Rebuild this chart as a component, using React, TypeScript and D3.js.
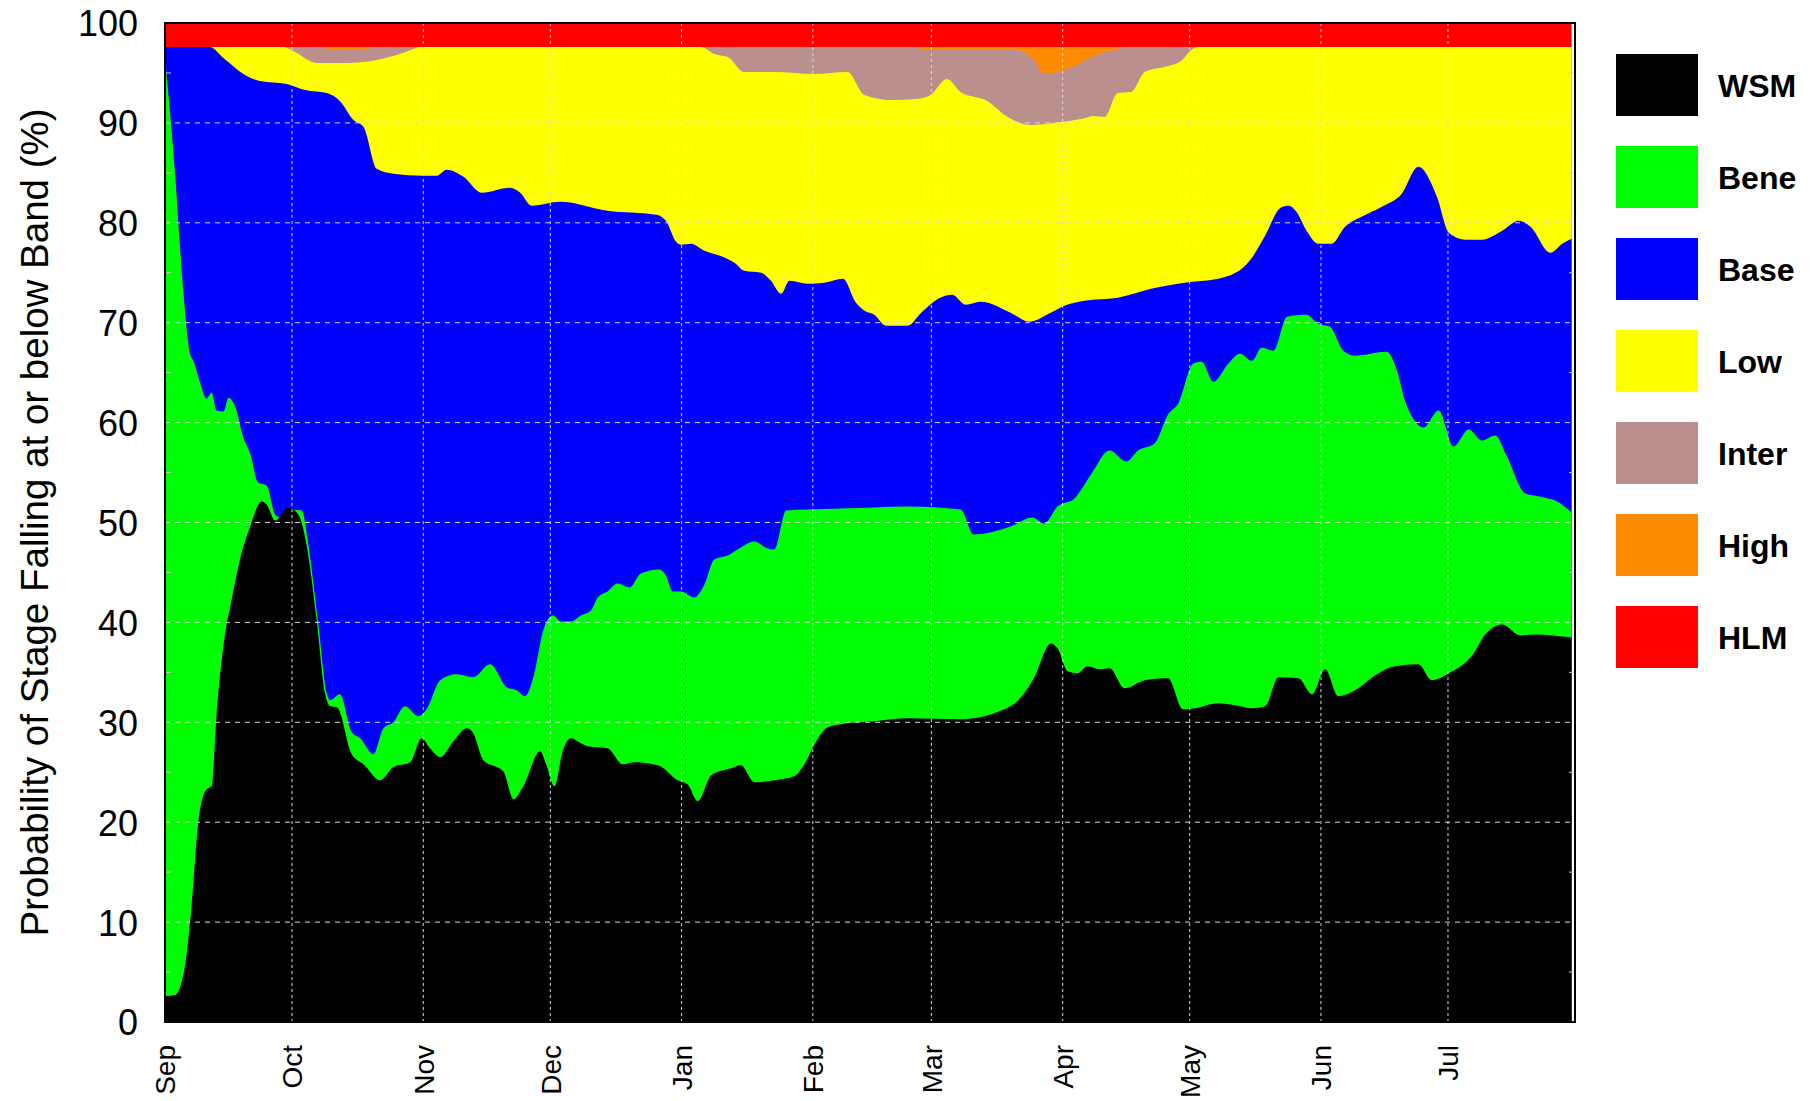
import { useEffect, useRef } from "react";
import * as d3 from "d3";

const WIDTH = 1817;
const HEIGHT = 1101;
const MARGIN = { top: 23, right: 242, bottom: 79, left: 165 };
const FONT = "'Liberation Sans', Arial, Helvetica, sans-serif";

// days counted from 1 Sep; values are cumulative % (probability at or below band)
const START = Date.UTC(2001, 8, 1);
const END = Date.UTC(2002, 6, 31);

const wsm: [number, number][] = [
  [0, 2.6], [2.4, 2.7], [4.7, 5.6], [6.3, 11.7], [7.9, 20.1], [9.8, 23.3], [11, 23.6], [12.2, 31],
  [13.8, 37.7], [15.7, 42.2], [17.7, 46.3], [20.1, 49.6], [22.8, 52.1], [24, 51.8], [26, 50.2],
  [29.1, 51.5], [31.5, 50.8], [33.5, 47.6], [35.8, 40.3], [37.8, 32.9], [39, 31.6], [40.6, 31.5],
  [44.1, 26.8], [46.9, 25.8], [50.8, 24.2], [53.9, 25.5], [57.9, 26.0], [60.6, 28.4], [62.6, 27.4],
  [65, 26.5], [68.1, 28.1], [71.3, 29.4], [72.8, 28.9], [75.2, 26.2], [79.9, 25.1], [82.3, 22.3],
  [84.6, 23.6], [88.6, 27.1], [90, 25.8], [92, 23.6], [93.9, 27.1], [95.9, 28.4], [98.2, 27.9],
  [99.8, 27.6], [104.5, 27.4], [108.1, 25.8], [110.8, 26.0], [116.4, 25.7], [121.1, 24.2],
  [123.4, 23.8], [125.8, 22.1], [129, 24.7], [133.7, 25.4], [136, 25.7], [139.2, 24.0], [143.9, 24.2],
  [148.6, 24.6], [151, 25.8], [153.4, 27.8], [156.5, 29.5], [159.7, 29.8], [167.5, 30.1],
  [175.4, 30.4], [187.9, 30.3], [198.2, 31.3], [201.3, 32.1], [205.3, 34.5], [209.2, 37.9],
  [210.8, 37.4], [213.2, 35.1], [215.5, 34.9], [217.9, 35.6], [220.7, 35.3], [223.1, 35.4],
  [226.6, 33.4], [231.4, 34.2], [236.9, 34.4], [240.4, 31.3], [243.2, 31.4], [248.7, 31.9],
  [252.7, 31.7], [256.7, 31.4], [259.8, 31.6], [263, 34.5], [267.7, 34.4], [270.9, 32.8], [274, 35.3],
  [277.1, 32.6], [281.8, 33.4], [285.8, 34.7], [290.5, 35.6], [296, 35.8], [299.2, 34.2],
  [303.2, 34.9], [308.7, 36.7], [311.8, 38.8], [315.8, 39.8], [320.1, 38.7], [323.7, 38.8],
  [332.2, 38.5],
];

const bene: [number, number][] = [
  [0, 96.5], [1.2, 91], [2.4, 84.8], [3.5, 77.8], [4.3, 73.3], [5.9, 66.9], [6.7, 66.2], [8.3, 64.0],
  [9.8, 62.4], [11, 63.0], [12.2, 61.2], [13.8, 61.1], [15, 62.5], [16.5, 61.7], [18.5, 58.5],
  [20.1, 56.9], [22, 54.0], [24, 53.7], [26, 50.8], [27.2, 50.5], [29.1, 51.3], [32.3, 51.2],
  [33.9, 47.6], [36.2, 39.9], [38.2, 32.9], [39, 32.2], [41.3, 32.8], [44.1, 29.0], [46.1, 28.4],
  [49.2, 26.8], [51.6, 29.4], [53.9, 30.0], [56.7, 31.6], [59.8, 30.6], [61.8, 31.3], [65, 34.2],
  [68.9, 34.8], [72.8, 34.5], [76.8, 35.8], [80.7, 33.5], [83.1, 33.2], [85, 32.6], [87, 34.5],
  [89.4, 39.3], [91.6, 40.7], [93.5, 40.1], [95.9, 40.1], [98.2, 40.7], [100.6, 41.2], [102.2, 42.5],
  [104.5, 43.1], [106.9, 43.9], [109.7, 43.5], [112.4, 44.9], [116.7, 45.3], [118.3, 44.7],
  [119.9, 43.1], [121.9, 43.1], [125, 42.5], [127.4, 43.8], [129.7, 46.3], [132.9, 46.7], [136, 47.5],
  [139.2, 48.1], [142.3, 47.4], [143.9, 47.3], [146.7, 51.2], [151.8, 51.3], [159.7, 51.4],
  [167.5, 51.5], [175.4, 51.6], [187.9, 51.3], [191, 48.8], [199.7, 49.6], [204.9, 50.5],
  [207.6, 49.9], [210.8, 51.6], [214.8, 52.4], [218.7, 54.8], [223.1, 57.2], [227, 56.1],
  [229.8, 57.2], [233.7, 57.9], [236.9, 60.8], [239.3, 61.9], [242.8, 65.9], [244.8, 66.1],
  [247.6, 64.1], [251.1, 65.9], [253.9, 66.9], [256.7, 66.2], [259, 67.5], [261.8, 67.2], [265, 70.6],
  [269.5, 70.8], [272.4, 69.9], [275.1, 69.6], [278.3, 67.2], [281, 66.7], [288.5, 67.1],
  [290.9, 65.3], [292.9, 62.1], [294.5, 60.6], [297.2, 59.5], [300.8, 61.2], [304.3, 57.6],
  [307.9, 59.3], [311, 58.2], [314.2, 58.7], [316.6, 56.9], [321.3, 52.9], [324.5, 52.6],
  [329.2, 52.0], [332.2, 51.0],
];

const base: [number, number][] = [
  [0, 97.6], [10.6, 97.6], [13.8, 96.5], [19.3, 94.7], [22.4, 94.2], [28.7, 93.9], [33.1, 93.3],
  [38.2, 93.0], [41.3, 92.2], [44.5, 90.3], [46.9, 89.6], [50, 85.4], [53.9, 84.9], [61, 84.7],
  [64.2, 84.7], [66.5, 85.3], [70.5, 84.6], [74.8, 83.0], [81.5, 83.5], [83.9, 83.0], [86.6, 81.7],
  [93.3, 82.1], [104.5, 81.2], [116, 80.8], [118.3, 80.2], [120.7, 78.1], [121.9, 77.8],
  [124.2, 77.9], [127.4, 77.2], [131.7, 76.6], [134.5, 76.0], [136.8, 75.2], [140.8, 75.0],
  [143.1, 74.2], [145.5, 72.9], [147.5, 74.2], [151.8, 73.9], [155.7, 74.0], [160.1, 74.4],
  [163.2, 72.0], [165.2, 71.2], [167.5, 70.8], [170.3, 69.7], [175.4, 69.7], [178.6, 71.0],
  [183.1, 72.5], [185.9, 72.8], [189.1, 71.8], [192.6, 72.1], [199.7, 71.0], [204.1, 70.1],
  [209.2, 71.0], [212.4, 71.7], [217.1, 72.2], [225, 72.5], [232.9, 73.4], [240.8, 74.0],
  [248.7, 74.4], [255.1, 75.7], [256.7, 76.5], [259.8, 78.7], [263.5, 81.5], [265.4, 81.7],
  [267.2, 81.1], [269.6, 79.2], [272.4, 77.9], [275.5, 77.9], [278.7, 79.6], [282.6, 80.6],
  [287.4, 81.6], [292.1, 82.9], [296, 85.6], [300.4, 82.6], [303.2, 79.0], [307.1, 78.3],
  [311, 78.3], [315.8, 79.2], [319.7, 80.2], [322.5, 79.6], [327.2, 77.0], [330, 77.9],
  [332.2, 78.4],
];

const low: [number, number][] = [
  [0, 97.6], [28, 97.6], [30.3, 97.2], [35.8, 96.0], [42.9, 96.0], [53.9, 96.7], [58.7, 97.4],
  [60, 97.6], [126.6, 97.6], [129.7, 96.9], [132.9, 96.6], [136.8, 95.1], [143.9, 95.1],
  [153.4, 94.9], [161.2, 95.1], [165.2, 92.8], [171.5, 92.3], [177.6, 92.4], [180.8, 92.8],
  [184.7, 94.4], [187.9, 93.1], [194.2, 92.2], [199, 90.6], [204.5, 89.8], [211.6, 90.1],
  [216.3, 90.4], [219.5, 90.7], [221.9, 90.6], [225, 93.0], [228.2, 93.1], [231.4, 95.1],
  [236.9, 95.7], [240, 96.2], [242.4, 97.3], [244, 97.6], [332.2, 97.6],
];

const inter: [number, number][] = [
  [0, 97.6], [36, 97.6], [40, 97.3], [46, 97.3], [50, 97.6], [175, 97.6], [180, 97.4], [200, 97.4],
  [203, 97.0], [205.3, 96.3], [207.6, 94.9], [211.6, 95.2], [214.8, 95.7], [219.5, 96.7],
  [225, 97.4], [228, 97.6], [332.2, 97.6],
];

const high: [number, number][] = [[0, 97.6], [332.2, 97.6]];
const hlm: [number, number][] = [[0, 100], [332.2, 100]];

const SERIES_NAMES = ["WSM", "Bene", "Base", "Low", "Inter", "High", "HLM"];
const SERIES_COLORS = ["#000000", "#00ff00", "#0000ff", "#ffff00", "#bc8f8f", "#ff8c00", "#ff0000"];
const SERIES_DATA = [wsm, bene, base, low, inter, high, hlm];

const Y_TICKS = d3.range(0, 101, 10);
const Y_MINOR = d3.range(5, 100, 10);

const dayToDate = (d: number) => new Date(START + d * 86400000);

export default function App() {
  const xAxisRef = useRef<SVGGElement>(null);
  const yAxisRef = useRef<SVGGElement>(null);

  const x0 = MARGIN.left;
  const x1 = WIDTH - MARGIN.right;
  const y0 = MARGIN.top;
  const y1 = HEIGHT - MARGIN.bottom;

  const x = d3.scaleUtc().domain([new Date(START), new Date(END)]).range([x0, x1]);
  const y = d3.scaleLinear().domain([0, 100]).range([y1, y0]);
  const months = d3.utcMonth.range(new Date(START), new Date(END));

  const area = d3
    .area<[number, number]>()
    .x((d) => x(dayToDate(d[0])))
    .y0(y(0))
    .y1((d) => y(d[1]))
    .curve(d3.curveMonotoneX);

  useEffect(() => {
    const gy = d3.select(yAxisRef.current);
    gy.selectAll("*").remove();
    gy.call(d3.axisLeft(y).tickValues(Y_TICKS).tickSize(0).tickPadding(27));
    gy.select(".domain").remove();
    gy.selectAll("text")
      .attr("font-size", 36)
      .attr("font-family", FONT)
      .attr("fill", "#000")
      .attr("dy", "0.36em");

    const gx = d3.select(xAxisRef.current);
    gx.selectAll("*").remove();
    gx.call(
      d3
        .axisBottom(x)
        .tickValues(months)
        .tickFormat((d) => d3.utcFormat("%b")(d as Date))
        .tickSize(0)
    );
    gx.select(".domain").remove();
    gx.selectAll("text")
      .attr("transform", "rotate(-90)")
      .attr("x", -23)
      .attr("y", 0)
      .attr("dy", "0.35em")
      .attr("text-anchor", "end")
      .attr("font-size", 28)
      .attr("font-family", FONT)
      .attr("fill", "#000");
  }, []);

  return (
    <svg
      width={WIDTH}
      height={HEIGHT}
      style={{ position: "absolute", left: 0, top: 0, background: "#fff" }}
    >
      {/* bands: cumulative curves painted top band first */}
      {SERIES_DATA.map((s, i) => i)
        .reverse()
        .map((i) => (
          <path key={SERIES_NAMES[i]} d={area(SERIES_DATA[i]) || ""} fill={SERIES_COLORS[i]} />
        ))}

      {/* grid */}
      {Y_TICKS.filter((t) => t > 0 && t < 100).map((t) => (
        <line key={"h" + t} x1={x0} x2={x1} y1={y(t)} y2={y(t)} stroke="#d8d8d8" strokeWidth={1} strokeDasharray="5,5" />
      ))}
      {months.slice(1).map((m) => (
        <line key={"v" + m.getTime()} x1={x(m)} x2={x(m)} y1={y0} y2={y1} stroke="#d8d8d8" strokeWidth={1} strokeDasharray="3,3" />
      ))}
      {Y_MINOR.map((t) => (
        <g key={"m" + t}>
          <line x1={x0} x2={x0 + 6} y1={y(t)} y2={y(t)} stroke="#cfcfcf" strokeWidth={1} />
          <line x1={x1 - 6} x2={x1} y1={y(t)} y2={y(t)} stroke="#cfcfcf" strokeWidth={1} />
        </g>
      ))}

      <rect x={x0} y={y0} width={x1 - x0} height={y1 - y0} fill="none" stroke="#000" strokeWidth={2} />

      <g ref={yAxisRef} transform={`translate(${x0},0)`} />
      <g ref={xAxisRef} transform={`translate(0,${y1})`} />

      <text
        transform={`translate(48,${(y0 + y1) / 2}) rotate(-90)`}
        textAnchor="middle"
        fontFamily={FONT}
        fontSize={38.5}
        fill="#000"
      >
        Probability of Stage Falling at or below Band (%)
      </text>

      {SERIES_NAMES.map((name, i) => (
        <g key={"lg" + name} transform={`translate(1616,${54 + i * 92})`}>
          <rect width={82} height={62} fill={SERIES_COLORS[i]} />
          <text x={102} y={31} dy="0.36em" fontFamily={FONT} fontSize={32} fontWeight="bold" fill="#000">
            {name}
          </text>
        </g>
      ))}
    </svg>
  );
}
